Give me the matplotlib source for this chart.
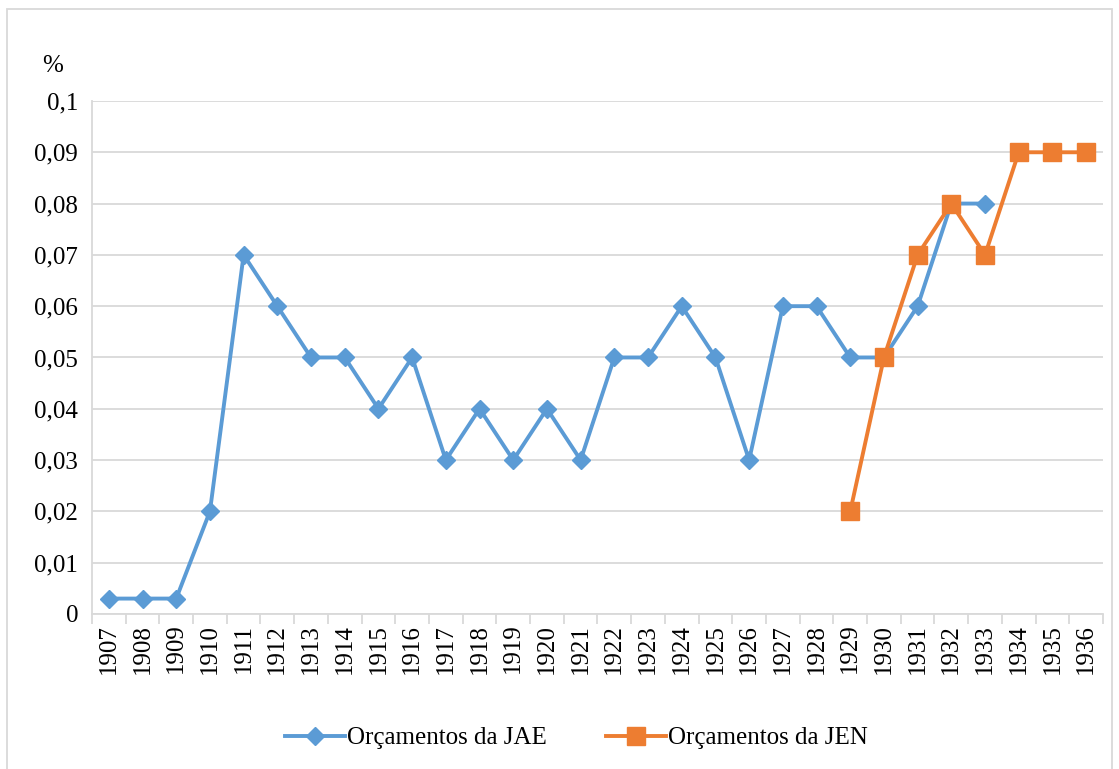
import matplotlib.pyplot as plt
from matplotlib.patches import Rectangle

plt.rcParams['font.family'] = ['Liberation Serif', 'DejaVu Serif']

years = [str(y) for y in range(1907, 1937)]
jae = [0.003, 0.003, 0.003, 0.02, 0.07, 0.06, 0.05, 0.05, 0.04, 0.05,
       0.03, 0.04, 0.03, 0.04, 0.03, 0.05, 0.05, 0.06, 0.05, 0.03,
       0.06, 0.06, 0.05, 0.05, 0.06, 0.08, 0.08]
jen = [0.02, 0.05, 0.07, 0.08, 0.07, 0.09, 0.09, 0.09]
yticks = [0, 0.01, 0.02, 0.03, 0.04, 0.05, 0.06, 0.07, 0.08, 0.09, 0.1]
ylabels = ["0", "0,01", "0,02", "0,03", "0,04", "0,05", "0,06", "0,07", "0,08", "0,09", "0,1"]

blue = "#5B9BD5"
orange = "#ED7D31"
grid = "#D9D9D9"
fs = 18

fig = plt.figure(figsize=(11.19, 7.69), dpi=100)
ax = fig.add_axes([0.0822, 0.2016, 0.9035, 0.6671])

xs = list(range(len(years)))
ax.plot(xs[:len(jae)], jae, color=blue, lw=2.8, marker="D", ms=9.5,
        label="Orçamentos da JAE", zorder=3)
ax.plot(xs[22:], jen, color=orange, lw=2.8, marker="s", ms=12.5,
        label="Orçamentos da JEN", zorder=4)

ax.set_xlim(-0.5, len(years) - 0.5)
ax.set_ylim(0, 0.1)
ax.set_yticks(yticks)
ax.set_yticklabels(ylabels, fontsize=fs)
ax.set_xticks(xs)
ax.set_xticklabels(years, rotation=90, fontsize=fs)
ax.set_xticks([x - 0.5 for x in range(len(years) + 1)], minor=True)
ax.tick_params(axis="x", which="major", length=0, pad=7)
ax.tick_params(axis="x", which="minor", length=7, color=grid, width=1.3)
ax.tick_params(axis="y", length=0, pad=10)
ax.grid(axis="y", color=grid, lw=1.3)
ax.set_axisbelow(True)
for s in ["top", "right"]:
    ax.spines[s].set_visible(False)
for s in ["left", "bottom"]:
    ax.spines[s].set_color(grid)
    ax.spines[s].set_linewidth(1.3)

fig.text(0.047, 0.914, "%", fontsize=fs, ha="center", va="center")

fig.legend(loc="center", bbox_to_anchor=(0.515, 0.04), ncol=2, frameon=False,
           fontsize=fs, handlelength=2.4, handletextpad=0.05, columnspacing=2.4)

fig.patches.append(Rectangle((0.006, -0.01), 0.988, 0.998, transform=fig.transFigure,
                             fill=False, edgecolor=grid, lw=1.3))

fig.savefig("out.png", dpi=100)
